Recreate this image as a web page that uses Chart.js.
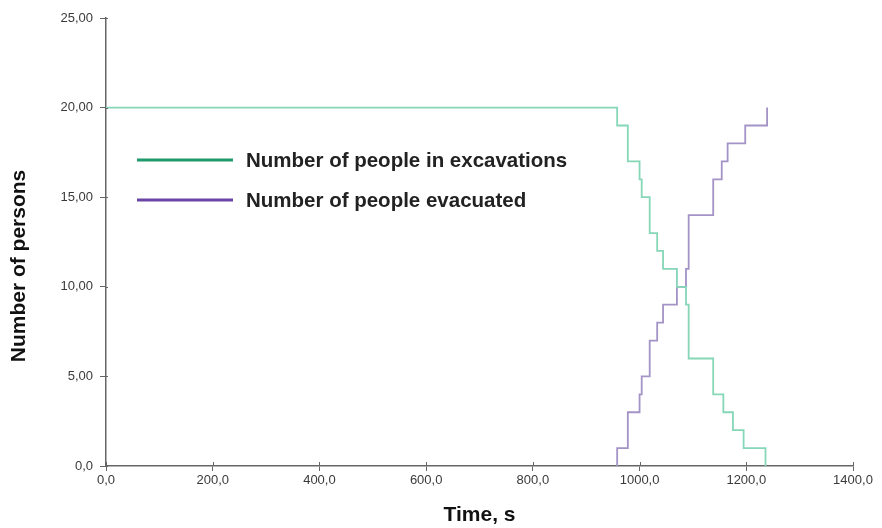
<!DOCTYPE html>
<html><head><meta charset="utf-8">
<script src="https://cdn.jsdelivr.net/npm/chart.js@4/dist/chart.umd.min.js"></script>
<style>html,body{margin:0;padding:0;background:#fff}#wrap{width:882px;height:528px;position:relative}</style>
</head><body><div id="wrap"><canvas id="c" width="882" height="528"></canvas></div>
<script>
const seriesNames = ["Number of people in excavations", "Number of people evacuated"];
const excavTimes  = [0, 958, 978, 1000, 1004, 1019, 1033, 1044, 1070, 1087, 1092, 1138, 1157, 1175, 1195, 1236];
const excavCounts = [20, 19, 17, 16, 15, 13, 12, 11, 10, 9, 6, 4, 3, 2, 1, 0];
const evacTimes   = [958, 958, 978, 1000, 1004, 1019, 1033, 1044, 1070, 1087, 1092, 1138, 1154, 1165, 1198, 1239];
const evacCounts  = [0, 1, 3, 4, 5, 7, 8, 9, 10, 11, 14, 16, 17, 18, 19, 20];
const xTickValues = [0, 200, 400, 600, 800, 1000, 1200, 1400];
const xTickLabels = ["0,0", "200,0", "400,0", "600,0", "800,0", "1000,0", "1200,0", "1400,0"];
const yTickValues = [0, 5, 10, 15, 20, 25];
const yTickLabels = ["0,0", "5,00", "10,00", "15,00", "20,00", "25,00"];
const xTitle = "Time, s";
const yTitle = "Number of persons";

const lineColors = ["#86d6b8", "#a393c6"];
const swatchColors = ["#1f9a6c", "#6a45a6"];
const FONT = '"Liberation Sans", Arial, sans-serif';

const toPoints = (xs, ys) => xs.map((x, i) => ({x: x, y: ys[i]}));

const legendPlugin = {
  id: 'insideLegend',
  afterDatasetsDraw(chart) {
    const ctx = chart.ctx;
    const rows = [160, 200];
    ctx.save();
    chart.data.datasets.forEach((ds, i) => {
      const y = rows[i];
      ctx.strokeStyle = ds.swatchColor;
      ctx.lineWidth = 3;
      ctx.beginPath();
      ctx.moveTo(137, y);
      ctx.lineTo(233, y);
      ctx.stroke();
      ctx.fillStyle = '#222';
      ctx.font = 'bold 20.5px ' + FONT;
      ctx.textBaseline = 'middle';
      ctx.textAlign = 'left';
      ctx.fillText(ds.label, 246, y + 1);
    });
    // y-axis title
    ctx.translate(19, 266);
    ctx.rotate(-Math.PI / 2);
    ctx.fillStyle = '#111';
    ctx.font = 'bold 21px ' + FONT;
    ctx.textAlign = 'center';
    ctx.textBaseline = 'middle';
    ctx.fillText(yTitle, 0, 0);
    ctx.restore();
    // x ticks crossing the axis slightly inside
    const xs = chart.scales.x, ys = chart.scales.y;
    ctx.save();
    ctx.strokeStyle = '#666';
    ctx.lineWidth = 1;
    xTickValues.forEach(v => {
      const px = Math.round(xs.getPixelForValue(v)) + 0.5;
      ctx.beginPath(); ctx.moveTo(px, ys.bottom); ctx.lineTo(px, ys.bottom - 4); ctx.stroke();
    });
    yTickValues.forEach(v => {
      const py = Math.round(ys.getPixelForValue(v)) + 0.5;
      ctx.beginPath(); ctx.moveTo(xs.left, py); ctx.lineTo(xs.left + 2, py); ctx.stroke();
    });
    ctx.restore();
  }
};

new Chart(document.getElementById('c'), {
  type: 'line',
  data: {
    datasets: [
      {label: seriesNames[0], data: toPoints(excavTimes, excavCounts), borderColor: lineColors[0], swatchColor: swatchColors[0], borderWidth: 1.8, pointRadius: 0, stepped: 'before', fill: false},
      {label: seriesNames[1], data: toPoints(evacTimes, evacCounts), borderColor: lineColors[1], swatchColor: swatchColors[1], borderWidth: 1.8, pointRadius: 0, stepped: 'before', fill: false}
    ]
  },
  options: {
    responsive: false,
    animation: false,
    events: [],
    layout: {padding: {top: 18, right: 29, left: 0, bottom: 0}},
    plugins: {legend: {display: false}, tooltip: {enabled: false}},
    scales: {
      x: {
        type: 'linear', min: 0, max: 1400, offset: false,
        afterFit(s) { s.height = 62; },
        afterBuildTicks(s) { s.ticks = xTickValues.map(v => ({value: v})); },
        ticks: {
          callback: (v) => xTickLabels[xTickValues.indexOf(v)],
          font: {size: 13, family: FONT}, color: '#3a3a3a', padding: 2, maxRotation: 0, autoSkip: false
        },
        grid: {drawOnChartArea: false, drawTicks: true, tickLength: 5, color: '#666', tickColor: '#666'},
        border: {display: true, color: '#666', width: 1.5},
        title: {display: true, text: xTitle, font: {size: 21, weight: 'bold', family: FONT}, color: '#111', padding: {top: 0, bottom: 0}}
      },
      y: {
        type: 'linear', min: 0, max: 25,
        afterFit(s) { s.width = 106; },
        afterBuildTicks(s) { s.ticks = yTickValues.map(v => ({value: v})); },
        ticks: {
          callback: (v) => yTickLabels[yTickValues.indexOf(v)],
          font: {size: 13, family: FONT}, color: '#3a3a3a', padding: 7
        },
        grid: {drawOnChartArea: false, drawTicks: true, tickLength: 6, color: '#666', tickColor: '#666'},
        border: {display: true, color: '#666', width: 1.5},
        title: {display: false}
      }
    }
  },
  plugins: [legendPlugin]
});
</script>
</body></html>
